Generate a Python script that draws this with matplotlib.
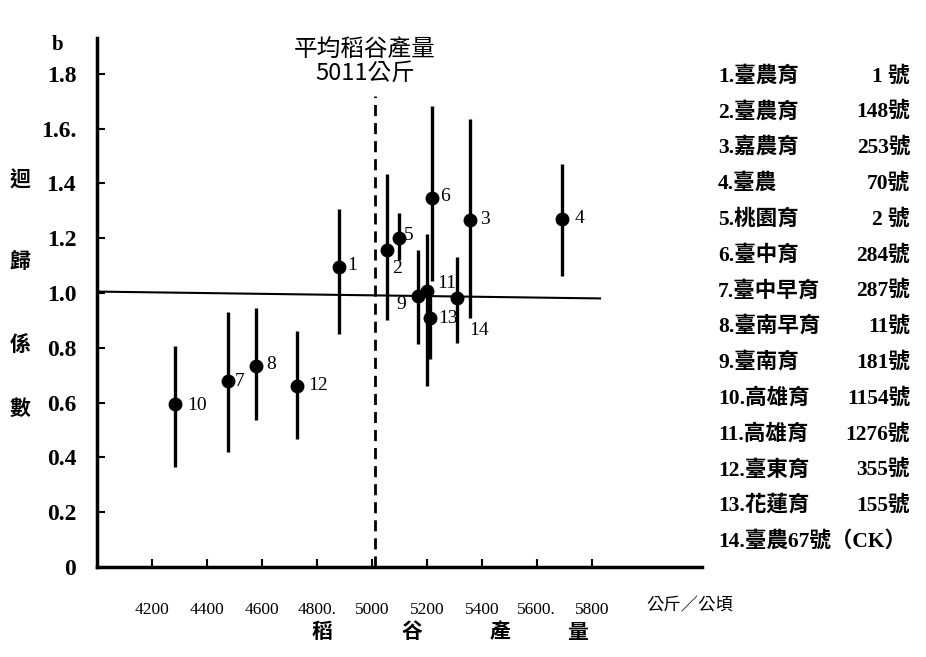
import matplotlib.pyplot as plt

# 稻谷產量 (公斤/公頃) 與迴歸係數 b
variety_no = [1, 2, 3, 4, 5, 6, 7, 8, 9, 10, 11, 12, 13, 14]
names = ['臺農育', '臺農育', '嘉農育', '臺農', '桃園育', '臺中育', '臺中早育',
         '臺南早育', '臺南育', '高雄育', '高雄育', '臺東育', '花蓮育', '臺農67號（CK）']
codes = ['1 號', '148號', '253號', '70號', '2 號', '284號', '287號',
         '11號', '181號', '1154號', '1276號', '355號', '155號', '']
yield_kg = [4882, 5054, 5357, 5693, 5098, 5218, 4477, 4580, 5167, 4284, 5200, 4726, 5212, 5309]
b_mean = [1.094, 1.156, 1.266, 1.27, 1.20, 1.347, 0.677, 0.735, 0.988, 0.593, 1.006, 0.662, 0.91, 0.981]
b_low = [0.849, 0.90, 0.907, 1.061, 1.12, 1.043, 0.421, 0.538, 0.815, 0.366, 0.66, 0.468, 0.76, 0.816]
b_high = [1.306, 1.434, 1.636, 1.471, 1.29, 1.683, 0.929, 0.944, 1.155, 0.805, 1.215, 0.860, 1.0, 1.131]

mean_yield = 5011
ref_x = [4000, 5830]
ref_y = [1.005, 0.98]

x_ticks = [4200, 4400, 4600, 4800, 5000, 5200, 5400, 5600, 5800]
x_ticklabels = ['4200', '4400', '4600', '4800.', '5000', '5200', '5400', '5600.', '5800']
y_ticks = [0, 0.2, 0.4, 0.6, 0.8, 1.0, 1.2, 1.4, 1.6, 1.8]
y_ticklabels = ['0', '0.2', '0.4', '0.6', '0.8', '1.0', '1.2', '1.4', '1.6.', '1.8']

# label offsets in pixels (dx, dy)
label_off = [(8, 2), (5, -18), (10, 1), (12, 0), (5, 3), (8, 1), (7, 0),
             (10, 1), (-12, -8), (12, -1), (10, 8), (12, 0), (8, -1), (12, -32)]

serif = ['Liberation Serif', 'Noto Sans CJK TC']
cjk = ['Noto Sans CJK TC', 'Liberation Serif']

fig = plt.figure(figsize=(9.26, 6.57), dpi=100)
ax = fig.add_axes([0.1048, 0.137, 0.653, 0.805])

ax.vlines(yield_kg, b_low, b_high, colors='black', linewidth=2.4)
ax.plot(yield_kg, b_mean, 'o', color='black', markersize=9)
ax.plot(ref_x, ref_y, color='black', linewidth=1.5)
ax.plot([mean_yield, mean_yield], [0, 1.72], color='black', linewidth=2,
        linestyle=(0, (4, 2.5)))

for n, x, y, off in zip(variety_no, yield_kg, b_mean, label_off):
    ax.annotate(str(n), (x, y), xytext=off, textcoords='offset pixels',
                ha='left' if off[0] > 0 else 'right', va='center',
                fontsize=14, family=serif)

ax.text(4975, 1.76, '平均稻谷產量\n5011公斤', ha='center', va='bottom',
        fontsize=17, family=cjk, linespacing=1.0)

ax.set_xlim(4000, 6200)
ax.set_ylim(0, 1.93)
ax.set_xticks(x_ticks)
ax.set_xticklabels(x_ticklabels, family=serif, fontsize=12.5)
ax.set_yticks(y_ticks)
ax.set_yticklabels(y_ticklabels, family=serif, fontsize=17, fontweight='bold')
ax.tick_params(axis='x', direction='in', length=6, width=1.5, pad=25)
ax.tick_params(axis='y', direction='in', length=6, width=1.5, pad=15)
for side in ['top', 'right']:
    ax.spines[side].set_visible(False)
for side in ['left', 'bottom']:
    ax.spines[side].set_linewidth(2.5)

# axis titles
fig.text(58 / 926, 1 - 45 / 657, 'b', fontsize=15, fontweight='bold',
         family=serif, ha='center', va='center')
for ch, py in zip('迴歸係數', [180, 262, 345, 408]):
    fig.text(20 / 926, 1 - py / 657, ch, fontsize=15, family=cjk,
             fontweight='bold', ha='center', va='center')
for ch, px in zip('稻谷產量', [322, 412, 500, 577]):
    fig.text(px / 926, 1 - 632 / 657, ch, fontsize=15, family=cjk,
             fontweight='bold', ha='center', va='center')
fig.text(690 / 926, 1 - 605 / 657, '公斤／公頃', fontsize=12.5, family=cjk,
         ha='center', va='center')

# legend list
for i, (n, name, code) in enumerate(zip(variety_no, names, codes)):
    py = 76 + i * 35.8
    fig.text(718 / 926, 1 - py / 657, f'{n}.{name}', fontsize=15.5, family=serif,
             fontweight='bold', ha='left', va='center')
    if code:
        fig.text(910 / 926, 1 - py / 657, code, fontsize=15.5, family=serif,
                 fontweight='bold', ha='right', va='center')

fig.savefig('out.png', dpi=100)
